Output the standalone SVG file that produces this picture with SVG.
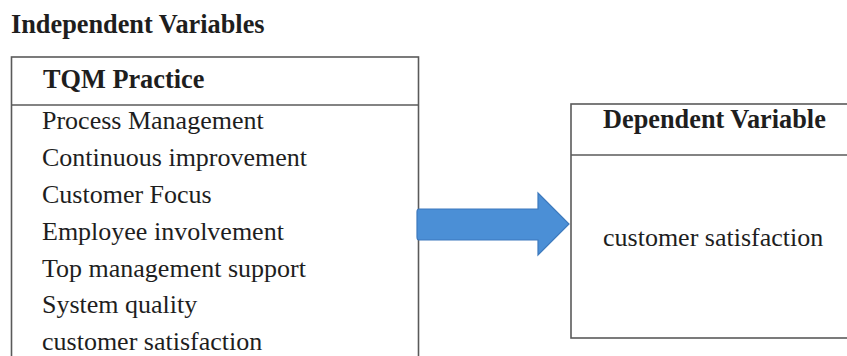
<svg xmlns="http://www.w3.org/2000/svg" width="847" height="356" viewBox="0 0 847 356">
<style>
.t{font-family:"Liberation Serif","Times New Roman",serif;fill:#1e1e1e}
.b{font-weight:bold;font-size:26.3px}
.r{font-size:26px}
.box{fill:#fff;stroke:#5a5a5a;stroke-width:1.6}
.ln{stroke:#5a5a5a;stroke-width:1.6}
</style>
<rect width="847" height="356" fill="#fff"/>
<text class="t b" x="11" y="33">Independent Variables</text>
<g id="tqm">
<rect class="box" x="11.5" y="57" width="407" height="310"/>
<line class="ln" x1="11.5" y1="105" x2="418.5" y2="105"/>
<text class="t b" x="43" y="88">TQM Practice</text>
<text class="t r" x="42" y="129">Process Management</text>
<text class="t r" x="42" y="166">Continuous improvement</text>
<text class="t r" x="42" y="203">Customer Focus</text>
<text class="t r" x="42" y="240">Employee involvement</text>
<text class="t r" x="42" y="277">Top management support</text>
<text class="t r" x="42" y="313">System quality</text>
<text class="t r" x="42" y="350">customer satisfaction</text>
</g>
<g id="dependent">
<rect class="box" x="571" y="104" width="290" height="234"/>
<line class="ln" x1="571" y1="155" x2="861" y2="155"/>
<text class="t b" x="603" y="128">Dependent Variable</text>
<text class="t r" x="603" y="246">customer satisfaction</text>
</g>
<g id="connectors">
<path d="M419,209 L538,209 L538,193 L569,224 L538,255 L538,240 L419,240 Q417,240 417,237 L417,212 Q417,209 419,209 Z" fill="#4b8fd6" stroke="#3d79bd" stroke-width="1.2"/>
</g>
</svg>
